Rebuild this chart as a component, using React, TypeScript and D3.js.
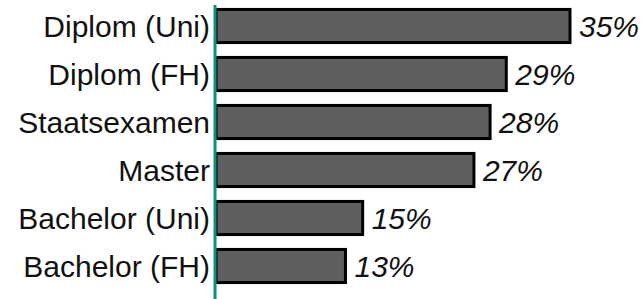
import * as d3 from 'd3';

const categories = [
  'Diplom (Uni)',
  'Diplom (FH)',
  'Staatsexamen',
  'Master',
  'Bachelor (Uni)',
  'Bachelor (FH)',
];
// bar lengths (percent)
const values = [35, 28.7, 27.1, 25.5, 14.5, 12.8];
const valueLabels = ['35%', '29%', '28%', '27%', '15%', '13%'];

const width = 643;
const height = 299;
const axisX = 216;

const App = () => {
  const xScale = d3.scaleLinear().domain([0, 35]).range([axisX, 570]);

  const yScale = d3
    .scaleBand<string>()
    .domain(categories)
    .range([2, 290])
    .paddingInner(0.31)
    .paddingOuter(0.155);

  const font = '"Liberation Sans", Arial, sans-serif';

  return (
    <svg
      width={width}
      height={height}
      style={{ position: 'absolute', left: 0, top: 0, background: '#fff' }}
      fontFamily={font}
    >
      {categories.map((c, i) => {
        const y = yScale(c) ?? 0;
        const bw = yScale.bandwidth();
        const x1 = xScale(values[i]);
        return (
          <g key={c}>
            <rect
              x={axisX}
              y={y}
              width={x1 - axisX}
              height={bw}
              fill='#5f5f5f'
              stroke='#000'
              strokeWidth={3}
            />
            <text
              x={210}
              y={y + bw / 2}
              dy='0.36em'
              textAnchor='end'
              fontSize={30}
              fill='#111'
            >
              {c}
            </text>
            <text
              x={x1 + 9}
              y={y + bw / 2}
              dy='0.36em'
              fontSize={30}
              fontStyle='italic'
              fill='#111'
            >
              {valueLabels[i]}
            </text>
          </g>
        );
      })}
      <line
        x1={axisX - 1}
        x2={axisX - 1}
        y1={5}
        y2={height}
        stroke='#12907e'
        strokeWidth={3}
      />
    </svg>
  );
};

export default App;
